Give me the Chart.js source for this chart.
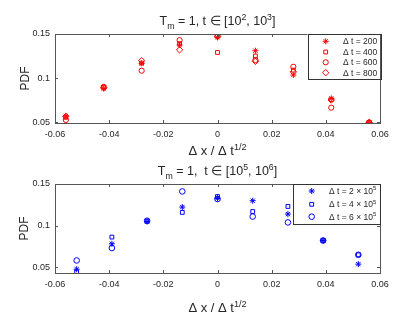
<!DOCTYPE html>
<html>
<head>
<meta charset="utf-8">
<script src="https://cdn.jsdelivr.net/npm/chart.js@4"></script>
<style>
  html, body { margin: 0; padding: 0; background: #fff; }
  #wrap { position: relative; width: 420px; height: 315px; }
  #topBox { position: absolute; left: 0; top: 0; width: 420px; height: 157px; }
  #botBox { position: absolute; left: 0; top: 157px; width: 420px; height: 158px; }
</style>
</head>
<body>
<div id="wrap">
  <div id="topBox"><canvas id="topChart"></canvas></div>
  <div id="botBox"><canvas id="botChart"></canvas></div>
</div>
<script>
// top panel: t in [10^2, 10^3]
const xTop = [-0.056, -0.042, -0.028, -0.014, 0, 0.014, 0.028, 0.042, 0.056];
const top200 = [0.0568, 0.0880, 0.1167, 0.1375, 0.1462, 0.1310, 0.1034, 0.0769, 0.0495];
const top400 = [0.0555, 0.0890, 0.1170, 0.1390, 0.1290, 0.1250, 0.1090, 0.0755, 0.0495];
const top600 = [0.0523, 0.0900, 0.1083, 0.1430, 0.1480, 0.1205, 0.1128, 0.0663, 0.0495];
const top800 = [0.0565, 0.0890, 0.1197, 0.1320, 0.1470, 0.1190, 0.1070, 0.0750, 0.0495];

// bottom panel: t in [10^5, 10^6]
const xBot = [-0.052, -0.039, -0.026, -0.013, 0, 0.013, 0.026, 0.039, 0.052];
const bot2e5 = [0.0480, 0.0784, 0.1050, 0.1224, 0.1330, 0.1300, 0.1140, 0.0823, 0.0540];
const bot4e5 = [0.0448, 0.0864, 0.1055, 0.1160, 0.1350, 0.1170, 0.1231, 0.0823, 0.0652];
const bot6e5 = [0.0584, 0.0733, 0.1060, 0.1411, 0.1320, 0.1110, 0.1040, 0.0823, 0.0652];

const xTicks = [-0.06, -0.04, -0.02, 0, 0.02, 0.04, 0.06];
const yTicks = [0.05, 0.1, 0.15];

const FONT = '"Liberation Sans", Arial, sans-serif';
const AXIS = '#555';
const TEXT = '#262626';

function pts(xs, ys) {
    return xs.map((x, i) => ({ x: x, y: ys[i] }));
}

// draws text made of [string, mode] parts; mode 1 = superscript, -1 = subscript
function richWidth(ctx, parts, size) {
    let w = 0;
    parts.forEach(([s, m]) => {
        ctx.font = (m ? size * 0.7 : size) + 'px ' + FONT;
        w += ctx.measureText(s).width;
    });
    return w;
}

function drawRich(ctx, parts, x, y, size, align) {
    const w = richWidth(ctx, parts, size);
    let cx = align === 'center' ? x - w / 2 : x;
    ctx.textAlign = 'left';
    ctx.textBaseline = 'alphabetic';
    parts.forEach(([s, m]) => {
        ctx.font = (m ? size * 0.7 : size) + 'px ' + FONT;
        const dy = m === 1 ? -size * 0.42 : (m === -1 ? size * 0.28 : 0);
        ctx.fillText(s, cx, y + dy);
        cx += ctx.measureText(s).width;
    });
}

const decorPlugin = {
    id: 'decor',
    afterDraw(chart) {
        const o = chart.config.options.plugins.decor;
        const { ctx, chartArea: a } = chart;
        const xs = chart.scales.x, ys = chart.scales.y;
        ctx.save();
        // box + inward ticks
        ctx.strokeStyle = AXIS;
        ctx.lineWidth = 1;
        ctx.strokeRect(Math.round(a.left) + 0.5, Math.round(a.top) + 0.5,
            Math.round(a.right - a.left), Math.round(a.bottom - a.top));
        ctx.beginPath();
        xTicks.forEach((v) => {
            const px = Math.round(xs.getPixelForValue(v)) + 0.5;
            ctx.moveTo(px, a.bottom); ctx.lineTo(px, a.bottom - 3);
            ctx.moveTo(px, a.top); ctx.lineTo(px, a.top + 3);
        });
        yTicks.forEach((v) => {
            const py = Math.round(ys.getPixelForValue(v)) + 0.5;
            ctx.moveTo(a.left, py); ctx.lineTo(a.left + 3, py);
            ctx.moveTo(a.right, py); ctx.lineTo(a.right - 3, py);
        });
        ctx.stroke();

        ctx.fillStyle = TEXT;
        drawRich(ctx, o.title, (a.left + a.right) / 2, o.titleY, 12.5, 'center');
        drawRich(ctx, [['\u0394 x / \u0394 t', 0], ['1/2', 1]], (a.left + a.right) / 2, o.xlabelY, 13, 'center');

        ctx.save();
        ctx.translate(o.ylabelX, (a.top + a.bottom) / 2);
        ctx.rotate(-Math.PI / 2);
        ctx.font = '12px ' + FONT;
        ctx.textAlign = 'center';
        ctx.textBaseline = 'middle';
        ctx.fillText('PDF', 0, 0);
        ctx.restore();

        // legend
        const L = o.legend;
        ctx.fillStyle = '#fff';
        ctx.fillRect(L.x0, L.y0, a.right - L.x0, L.y1 - L.y0);
        ctx.strokeStyle = '#333';
        ctx.strokeRect(Math.round(L.x0) + 0.5, Math.round(a.top) + 0.5,
            Math.round(a.right - L.x0), Math.round(L.y1 - a.top));
        chart.data.datasets.forEach((ds, i) => {
            const ry = L.rows[i];
            ctx.strokeStyle = ds.borderColor;
            ctx.fillStyle = ds.backgroundColor;
            ctx.lineWidth = 1;
            Chart.helpers.drawPoint(ctx, { pointStyle: ds.pointStyle, radius: ds.pointRadius, rotation: 0, borderWidth: 1 }, L.mx, ry);
            ctx.fillStyle = TEXT;
            drawRich(ctx, L.labels[i], L.tx, ry + 3, 8.5, 'left');
        });
        ctx.restore();
    },
};

function ds(label, data, style, radius, color) {
    return {
        label: label,
        data: data,
        pointStyle: style,
        pointRadius: radius,
        pointHoverRadius: radius,
        pointBorderWidth: 1,
        borderColor: color,
        backgroundColor: 'rgba(0,0,0,0)',
    };
}

function scalesFor(yMin, xHeight) {
    return {
        x: {
            type: 'linear', min: -0.06, max: 0.06,
            afterBuildTicks: (s) => { s.ticks = xTicks.map((v) => ({ value: v })); },
            afterFit: (s) => { s.height = xHeight; },
            grid: { display: false, drawTicks: false }, border: { display: false },
            ticks: { color: TEXT, font: { family: FONT, size: 9 }, padding: 6, maxRotation: 0,
                callback: (v) => String(+v.toFixed(2)) },
        },
        y: {
            type: 'linear', min: yMin, max: 0.15,
            afterBuildTicks: (s) => { s.ticks = yTicks.map((v) => ({ value: v })); },
            afterFit: (s) => { s.width = 55; },
            grid: { display: false, drawTicks: false }, border: { display: false },
            ticks: { color: TEXT, font: { family: FONT, size: 9 }, padding: 5,
                callback: (v) => String(+v.toFixed(2)) },
        },
    };
}

const red = '#ff0000';
new Chart(document.getElementById('topChart'), {
    type: 'scatter',
    plugins: [decorPlugin],
    data: {
        datasets: [
            ds('200', pts(xTop, top200), 'star', 3, red),
            ds('400', pts(xTop, top400), 'rect', 2.7, red),
            ds('600', pts(xTop, top600), 'circle', 2.6, red),
            ds('800', pts(xTop, top800), 'rectRot', 3.2, red),
        ],
    },
    options: {
        responsive: true,
        maintainAspectRatio: false,
        animation: false,
        layout: { padding: { left: 0, right: 40, top: 34, bottom: 0 } },
        plugins: {
            legend: { display: false },
            tooltip: { enabled: false },
            decor: {
                title: [['T', 0], ['m', -1], [' = 1, t \u2208 [10', 0], ['2', 1], [', 10', 0], ['3', 1], [']', 0]],
                titleY: 25,
                xlabelY: 155,
                ylabelX: 26,
                legend: {
                    x0: 307.5, y0: 34, y1: 79, mx: 325.7, tx: 343,
                    rows: [41.3, 52, 62.3, 72.7],
                    labels: [
                        [['\u0394 t = 200', 0]],
                        [['\u0394 t = 400', 0]],
                        [['\u0394 t = 600', 0]],
                        [['\u0394 t = 800', 0]],
                    ],
                },
            },
        },
        scales: scalesFor(0.0489, 34),
    },
});

const blue = '#0000ff';
new Chart(document.getElementById('botChart'), {
    type: 'scatter',
    plugins: [decorPlugin],
    data: {
        datasets: [
            ds('2e5', pts(xBot, bot2e5), 'star', 3, blue),
            ds('4e5', pts(xBot, bot4e5), 'rect', 2.7, blue),
            ds('6e5', pts(xBot, bot6e5), 'circle', 2.8, blue),
        ],
    },
    options: {
        responsive: true,
        maintainAspectRatio: false,
        animation: false,
        layout: { padding: { left: 0, right: 40, top: 27, bottom: 0 } },
        plugins: {
            legend: { display: false },
            tooltip: { enabled: false },
            decor: {
                title: [['T', 0], ['m', -1], [' = 1,  t \u2208 [10', 0], ['5', 1], [', 10', 0], ['6', 1], [']', 0]],
                titleY: 18,
                xlabelY: 155,
                ylabelX: 25,
                legend: {
                    x0: 293.3, y0: 27, y1: 67.3, mx: 311.7, tx: 329,
                    rows: [34, 47.3, 59.7],
                    labels: [
                        [['\u0394 t = 2 \u00d7 10', 0], ['5', 1]],
                        [['\u0394 t = 4 \u00d7 10', 0], ['5', 1]],
                        [['\u0394 t = 6 \u00d7 10', 0], ['5', 1]],
                    ],
                },
            },
        },
        scales: scalesFor(0.0434, 42),
    },
});
</script>
</body>
</html>
